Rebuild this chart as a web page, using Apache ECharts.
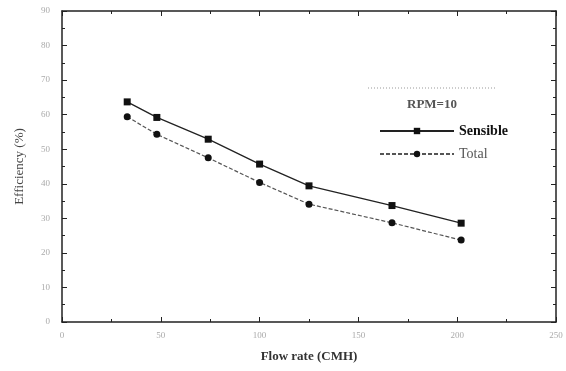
<!DOCTYPE html>
<html>
<head>
<meta charset="utf-8">
<script src="https://cdn.jsdelivr.net/npm/echarts@6/dist/echarts.min.js"></script>
<style>
  html, body { margin: 0; padding: 0; background: #fff; }
  #box { width: 566px; height: 371px; }
</style>
</head>
<body>
<div id="box"></div>
<script>
// flow rate (CMH) and efficiency (%)
const flowRate = [33, 48, 74, 100, 125, 167, 202];
const sensible = [63.7, 59.2, 52.9, 45.7, 39.4, 33.7, 28.6];
const total = [59.4, 54.3, 47.5, 40.4, 34.1, 28.7, 23.7];

const xTicks = [0, 50, 100, 150, 200, 250];
const yTicks = [0, 10, 20, 30, 40, 50, 60, 70, 80, 90];

const font = 'Liberation Serif';
const pair = (xs, ys) => xs.map((x, i) => [x, ys[i]]);

const chart = echarts.init(document.getElementById('box'));

// frame axes: ticks pointing inward, minor ticks between majors
const axisBase = () => ({
  axisLine: { show: true, onZero: false, lineStyle: { color: '#222', width: 1.5 } },
  axisTick: { show: true, inside: true, length: 5, lineStyle: { color: '#222' } },
  minorTick: { show: true, splitNumber: 2, length: 3, lineStyle: { color: '#222' } },
  splitLine: { show: false }
});

const option = {
  animation: false,
  backgroundColor: '#fff',
  grid: { left: 62, right: 10, top: 11, bottom: 49 },
  title: {
    text: 'RPM=10',
    left: 402, top: 93,
    textStyle: { fontFamily: font, fontSize: 13, fontWeight: 'bold', color: '#555' }
  },
  legend: {
    data: [
      { name: 'Sensible', textStyle: { fontWeight: 'bold', color: '#111' } },
      { name: 'Total', textStyle: { color: '#555' } }
    ],
    orient: 'vertical',
    left: 374, top: 119,
    itemWidth: 74, itemHeight: 8, itemGap: 9,
    textStyle: { fontFamily: font, fontSize: 14, color: '#222' }
  },
  graphic: [
    {
      type: 'line', silent: true,
      shape: { x1: 368, y1: 88, x2: 497, y2: 88 },
      style: { stroke: '#999', lineDash: [1, 2], lineWidth: 1 }
    }
  ],
  xAxis: [
    Object.assign(axisBase(), {
      type: 'value', min: 0, max: 250, interval: 50,
      name: 'Flow rate (CMH)', nameLocation: 'middle', nameGap: 28,
      nameTextStyle: { fontFamily: font, fontSize: 13, fontWeight: 'bold', color: '#333' },
      axisLabel: { fontFamily: font, fontSize: 9, color: '#aaa', margin: 9,
        formatter: v => xTicks.includes(v) ? String(v) : '' }
    }),
    Object.assign(axisBase(), {
      type: 'value', min: 0, max: 250, interval: 50, position: 'top',
      axisLabel: { show: false }
    })
  ],
  yAxis: [
    Object.assign(axisBase(), {
      type: 'value', min: 0, max: 90, interval: 10,
      name: 'Efficiency (%)', nameLocation: 'middle', nameGap: 36,
      nameTextStyle: { fontFamily: font, fontSize: 13, color: '#444' },
      axisLabel: { fontFamily: font, fontSize: 9, color: '#aaa', margin: 12,
        formatter: v => yTicks.includes(v) ? String(v) : '' }
    }),
    Object.assign(axisBase(), {
      type: 'value', min: 0, max: 90, interval: 10, position: 'right',
      axisLabel: { show: false }
    })
  ],
  series: [
    {
      name: 'Sensible',
      type: 'line',
      data: pair(flowRate, sensible),
      symbol: 'rect', symbolSize: 7,
      itemStyle: { color: '#111' },
      lineStyle: { color: '#222', width: 1.3 }
    },
    {
      name: 'Total',
      type: 'line',
      data: pair(flowRate, total),
      symbol: 'circle', symbolSize: 7,
      itemStyle: { color: '#111' },
      lineStyle: { color: '#555', width: 1.2, type: [4, 2] }
    }
  ]
};

chart.setOption(option);
window.onresize = function () {
  chart.resize();
};
</script>
</body>
</html>
